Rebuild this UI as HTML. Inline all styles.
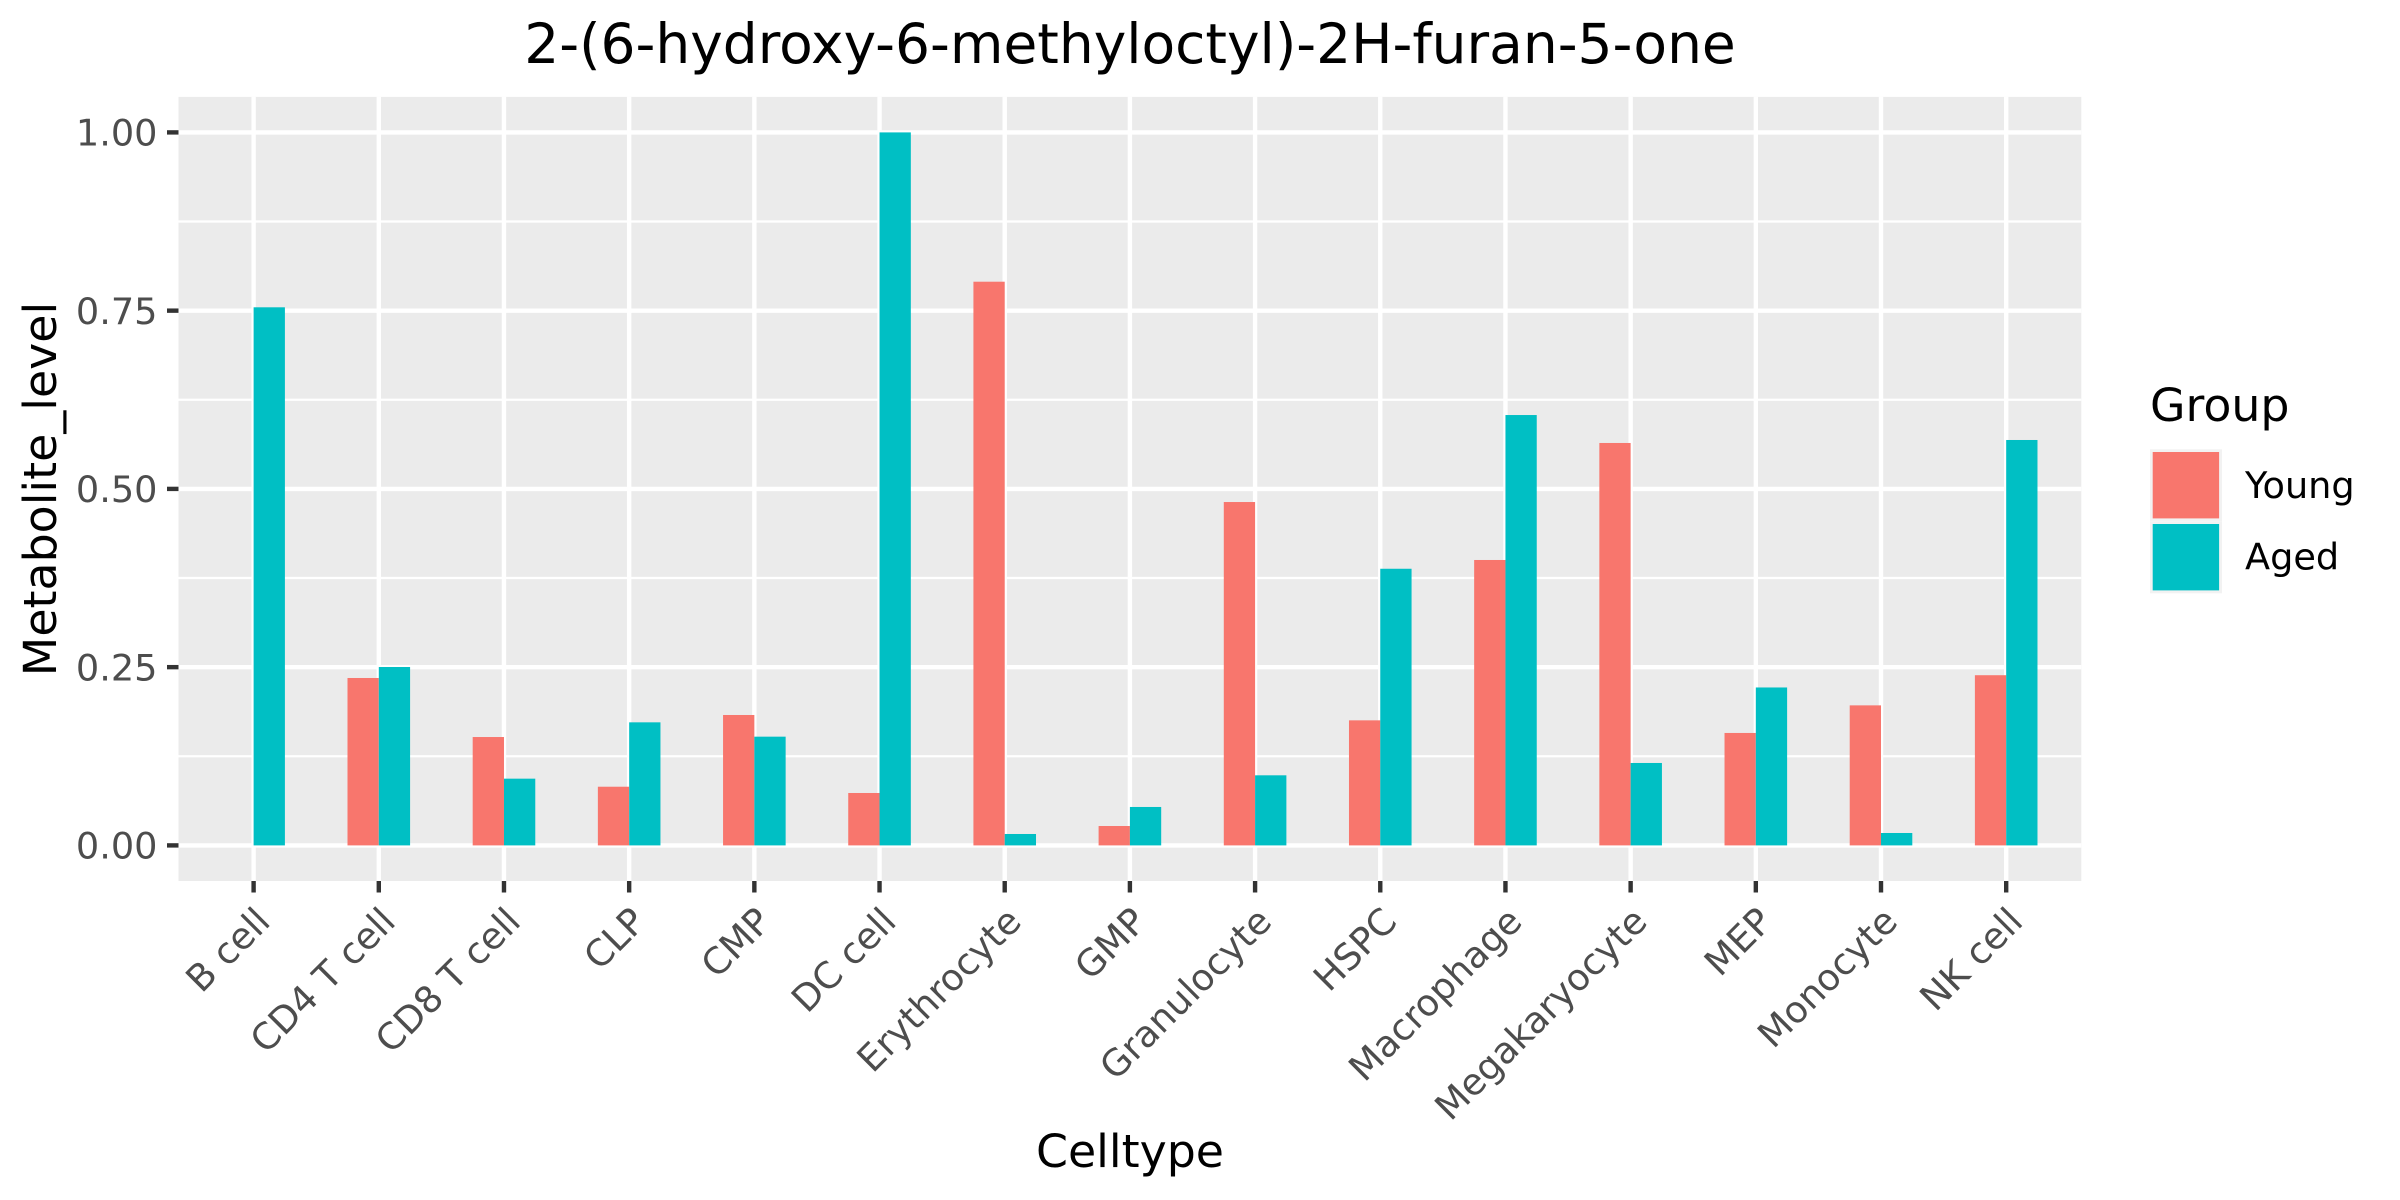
<!DOCTYPE html>
<html lang="en">
<head>
<meta charset="utf-8">
<title>2-(6-hydroxy-6-methyloctyl)-2H-furan-5-one</title>
<style>
  html, body { margin: 0; padding: 0; background: #fff; }
  svg { display: block; font-family: "DejaVu Sans", "Liberation Sans", sans-serif; }
</style>
</head>
<body>
<svg id="chart" xmlns="http://www.w3.org/2000/svg" width="2400" height="1200" viewBox="0 0 2400 1200">
  <rect x="0" y="0" width="2400" height="1200" fill="#ffffff"/>
  <text x="1130" y="63" font-size="55" text-anchor="middle" fill="#000">2-(6-hydroxy-6-methyloctyl)-2H-furan-5-one</text>
  <rect x="178.5" y="96.9" width="1902.8" height="784.1" fill="#EBEBEB"/>
  <g id="grid"></g>
  <g id="bars"></g>
  <g id="axes"></g>
  <text x="1130" y="1167" font-size="45.83" text-anchor="middle" fill="#000">Celltype</text>
  <text transform="translate(56 489) rotate(-90)" font-size="45.83" text-anchor="middle" fill="#000">Metabolite_level</text>
  <g>
    <text x="2150" y="421" font-size="45.83" fill="#000">Group</text>
    <rect x="2150" y="449.3" width="72" height="72" fill="#F2F2F2"/>
    <rect x="2150" y="521.3" width="72" height="72" fill="#F2F2F2"/>
    <rect x="2152.7" y="452" width="66.4" height="66.4" fill="#F8766D"/>
    <rect x="2152.7" y="524" width="66.4" height="66.4" fill="#00BFC4"/>
    <text x="2245" y="498" font-size="36.67" fill="#000">Young</text>
    <text x="2245" y="569.6" font-size="36.67" fill="#000">Aged</text>
  </g>
</svg>
<script>
const categories = ["B cell", "CD4 T cell", "CD8 T cell", "CLP", "CMP", "DC cell", "Erythrocyte", "GMP", "Granulocyte", "HSPC", "Macrophage", "Megakaryocyte", "MEP", "Monocyte", "NK cell"];
const youngValues = [0, 0.2348, 0.152, 0.0823, 0.1829, 0.0735, 0.7906, 0.0272, 0.4816, 0.1754, 0.4003, 0.5644, 0.1577, 0.1964, 0.2387];
const agedValues = [0.7547, 0.2502, 0.0936, 0.1726, 0.1525, 1.0, 0.016, 0.0539, 0.0983, 0.388, 0.6036, 0.1156, 0.2215, 0.0174, 0.5686];
const yMajorTicks = [0, 0.25, 0.5, 0.75, 1];
const yMinorTicks = [0.125, 0.375, 0.625, 0.875];
const yTickLabels = ["0.00", "0.25", "0.50", "0.75", "1.00"];

const NS = "http://www.w3.org/2000/svg";
const panelLeft = 178.5, panelRight = 2081.3, panelTop = 96.9, panelBottom = 881;
const y0Px = 845.4, yPerUnit = 713;
const bandPx = (panelRight - panelLeft) / (categories.length - 1 + 1.2);
const xScale = i => panelLeft + (i + 0.6) * bandPx;
const yScale = v => y0Px - v * yPerUnit;
const barWidthPx = bandPx * 0.25;

function make(tag, parent, attrs, text) {
  const el = document.createElementNS(NS, tag);
  for (const k in attrs) el.setAttribute(k, attrs[k]);
  if (text !== undefined) el.textContent = text;
  parent.appendChild(el);
  return el;
}
const grid = document.getElementById("grid");
const bars = document.getElementById("bars");
const axes = document.getElementById("axes");

yMinorTicks.forEach(v => {
  const el = make("line", grid, { x1: panelLeft, x2: panelRight, y1: yScale(v), y2: yScale(v), stroke: "#fff", "stroke-width": 2.2 });
  
  
});
yMajorTicks.forEach(v => {
  const el = make("line", grid, { x1: panelLeft, x2: panelRight, y1: yScale(v), y2: yScale(v), stroke: "#fff", "stroke-width": 4.4 });
  
  
});
categories.forEach((c, i) => {
  const el = make("line", grid, { x1: xScale(i), x2: xScale(i), y1: panelTop, y2: panelBottom, stroke: "#fff", "stroke-width": 4.4 });
  
  
});

categories.forEach((c, i) => {
  const cx = xScale(i);
  const youngBar = make("rect", bars, { x: cx - barWidthPx, y: yScale(youngValues[i]), width: barWidthPx, height: y0Px - yScale(youngValues[i]), fill: "#F8766D" });
  
  
  const agedBar = make("rect", bars, { x: cx, y: yScale(agedValues[i]), width: barWidthPx, height: y0Px - yScale(agedValues[i]), fill: "#00BFC4" });
  
  

  const tick = make("line", axes, { x1: cx, x2: cx, y1: panelBottom, y2: panelBottom + 11.5, stroke: "#333333", "stroke-width": 4.4 });
  
  
  const px = cx + 18.5, py = 923.5;
  const label = make("text", axes, { transform: "translate(" + px + " " + py + ") rotate(-45)", "font-size": 36.67, "text-anchor": "end", fill: "#4D4D4D" }, c);
  
  
});

yMajorTicks.forEach((v, i) => {
  const py = yScale(v);
  const tick = make("line", axes, { x1: panelLeft - 11.5, x2: panelLeft, y1: py, y2: py, stroke: "#333333", "stroke-width": 4.4 });
  
  
  const label = make("text", axes, { x: 157.5, y: py + 13.2, "font-size": 36.67, "text-anchor": "end", fill: "#4D4D4D" }, yTickLabels[i]);
  
  
});
</script>
</body>
</html>
